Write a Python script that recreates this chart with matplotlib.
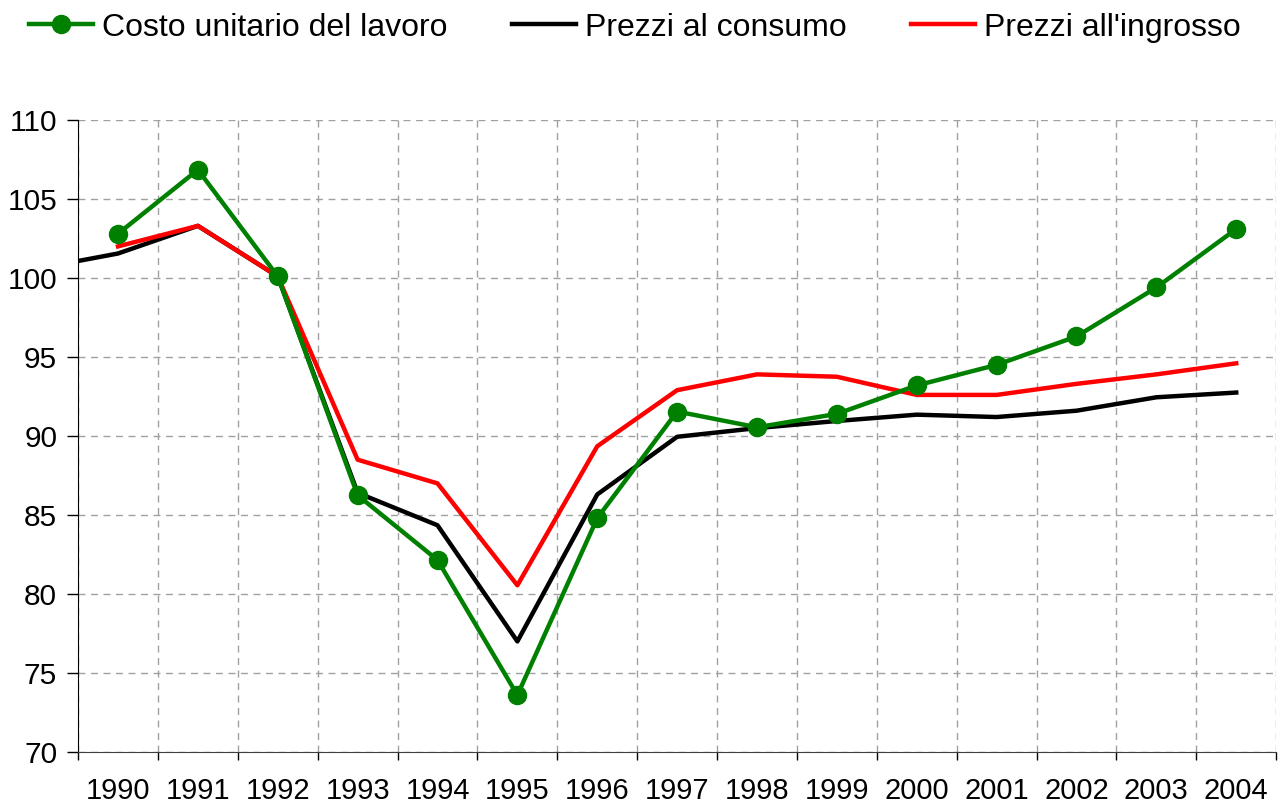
import matplotlib.pyplot as plt
import numpy as np

plt.rcParams['font.family'] = ['Liberation Sans', 'DejaVu Sans']

years = [str(y) for y in range(1990, 2005)]
costo_lavoro = [102.8, 106.85, 100.1, 86.25, 82.15, 73.6, 84.8, 91.55, 90.55,
                91.4, 93.2, 94.5, 96.3, 99.4, 103.1]
# first value belongs to the year before 1990, outside the visible range
prezzi_consumo = [100.6, 101.55, 103.3, 100.1, 86.4, 84.35, 77.0, 86.3, 89.95,
                  90.5, 90.95, 91.35, 91.2, 91.6, 92.45, 92.75]
prezzi_ingrosso = [102.0, 103.3, 100.1, 88.5, 87.0, 80.55, 89.35, 92.9, 93.9,
                   93.75, 92.6, 92.6, 93.3, 93.9, 94.6]

x = np.arange(len(years))
x_cons = np.arange(-1, len(years))

fig = plt.figure(figsize=(12.8, 8.08), dpi=100)
ax = fig.add_axes([0.061, 0.0693, 0.936, 0.7822])

ax.plot(x, costo_lavoro, color='#008000', lw=3.2, marker='o', markersize=13,
        label='Costo unitario del lavoro', zorder=4)
ax.plot(x_cons, prezzi_consumo, color='black', lw=3.2,
        label='Prezzi al consumo', zorder=3)
ax.plot(x, prezzi_ingrosso, color='#ff0000', lw=3.2,
        label="Prezzi all'ingrosso", zorder=3)

ax.set_xlim(-0.5, len(years) - 0.5)
ax.set_ylim(70, 110)
ax.set_yticks(np.arange(70, 111, 5))
ax.set_xticks(x)
ax.set_xticklabels(years)
ax.set_xticks(np.arange(-0.5, len(years)), minor=True)
ax.tick_params(axis='x', which='major', length=0, pad=18, labelsize=21)
ax.tick_params(axis='x', which='minor', length=6, width=1, direction='out')
ax.tick_params(axis='y', length=8, width=1, labelsize=21.5, pad=7)

ax.grid(axis='y', which='major', color='#a0a0a0', ls=(0, (5, 4)), lw=1)
ax.grid(axis='x', which='minor', color='#a0a0a0', ls=(0, (5, 4)), lw=1)
ax.spines['top'].set_visible(False)
ax.spines['right'].set_visible(False)
ax.spines['left'].set_color('black')
ax.spines['bottom'].set_color('#404040')

fig.legend(loc='upper left', bbox_to_anchor=(0.0, 1.02), ncol=3, frameon=False,
           fontsize=23, handlelength=2.0, columnspacing=2.0, handletextpad=0.3)

fig.savefig('out.png', dpi=100)
